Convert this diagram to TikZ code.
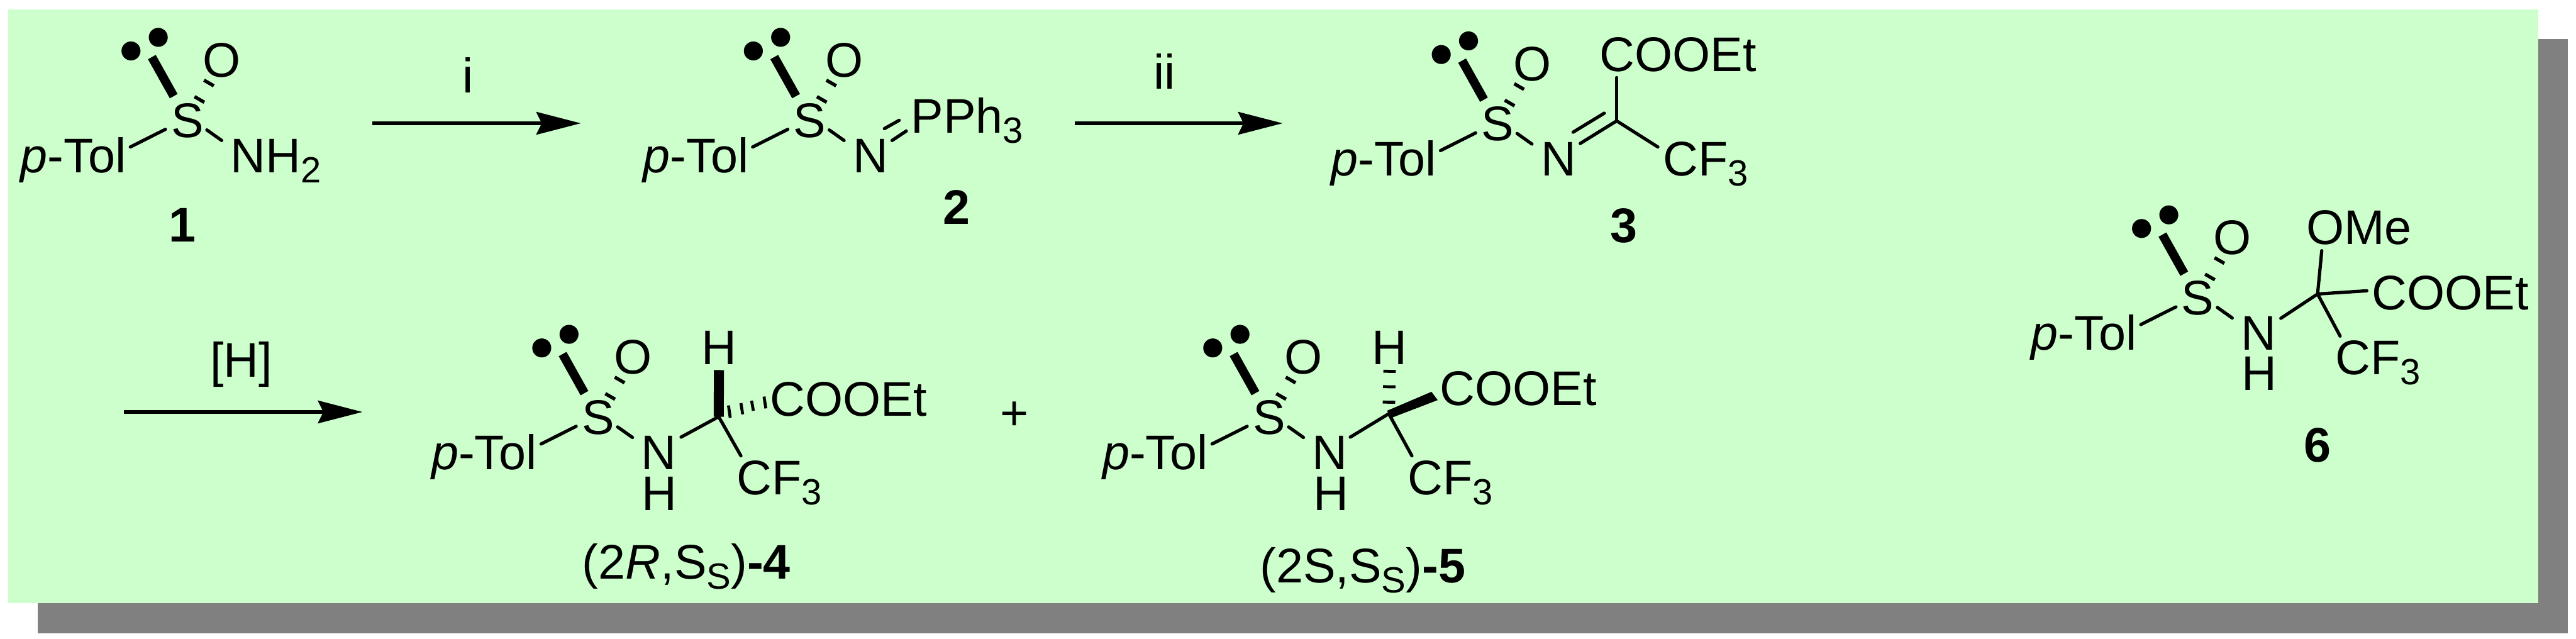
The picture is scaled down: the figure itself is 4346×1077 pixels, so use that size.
\documentclass[tikz,border=0pt]{standalone}
\usepackage{fontspec}
\setmainfont{Liberation Sans}
\usetikzlibrary{calc,arrows.meta}
\newcommand{\fsz}{\fontsize{23.33pt}{28pt}\selectfont}
\newcommand{\lowsub}[1]{\raisebox{-0.17cm}{\fontsize{17.5pt}{20pt}\selectfont #1}}
\tikzset{
  x=0.01cm,y=-0.01cm,
  atom/.style={inner sep=0pt,outer sep=0pt,font=\fsz},
  bond/.style={line width=0.055cm,line cap=round,black},
  heavybond/.style={line width=0.15cm,black},
  hashbond/.style={line width=0.19cm,black,dash pattern=on 0.058cm off 0.262cm,shorten <=0.38cm,shorten >=0.41cm},
  lonedot/.style={circle,fill=black,inner sep=0pt,minimum size=0.32cm},
  rxnarrow/.style={line width=0.06cm,black,-{Stealth[length=0.75cm,width=0.38cm,inset=0.09cm]}},
}
\newcommand{\sulf}[4]{%
  \begin{scope}[shift={(#2,#3)},name prefix=#1-]
    \node[atom,anchor=base] (S) at (0,29.5) {S};
    \node[atom,anchor=base west] (Tol) at (-281,89) {\textit{p}-Tol};
    \node[atom,anchor=base] (O) at (58.5,-72) {O};
    \node[atom,anchor=base west] (N) at (73,89) {#4};
    \node[lonedot] (LPa) at (-95,-116) {};
    \node[lonedot] (LPb) at (-49,-139) {};
    \coordinate (LP) at ($(LPa)!.5!(LPb)$);
    \draw[heavybond,shorten <=0.47cm,shorten >=0.25cm] (S.center) -- (LP);
    \draw[hashbond] (S.center) -- (O.center);
    \draw[bond] ([shift={(-37,15)}]S.center) -- ([shift={(7,-43)}]Tol.base east);
    \draw[bond] ([shift={(33,16)}]S.center) -- ([shift={(-15,-54)}]N.base west);
  \end{scope}%
}
\begin{document}
\begin{tikzpicture}
\useasboundingbox (0,0) rectangle (4346,1077);
\fill[fill={rgb,255:red,128;green,128;blue,128}] (64,66) rectangle (4332,1068);
\fill[fill={rgb,255:red,204;green,255;blue,204}] (14,16) rectangle (4282,1018);

% 1
\sulf{a}{316}{202}{NH\lowsub{2}}
\node[atom,anchor=base,font=\fsz\bfseries] (L1) at (308,408) {1};
\coordinate (A1s) at (628,208); \coordinate (A1e) at (980,208);
\draw[rxnarrow] (A1s) -- (A1e);
\node[atom,anchor=base] (Li) at (789.5,156) {i};

% 2
\sulf{b}{1366}{202}{N}
\node[atom,anchor=base west] (PPh) at (1537,224) {PPh\lowsub{3}};
\draw[bond] ([shift={(53,-74)}]b-N.base west) -- ([shift={(-20,-21)}]PPh.base west);
\draw[bond] ([shift={(66,-54)}]b-N.base west) -- ([shift={(-8,-3)}]PPh.base west);
\node[atom,anchor=base,font=\fsz\bfseries] (L2) at (1614,378) {2};
\coordinate (A2s) at (1813,208); \coordinate (A2e) at (2164,208);
\draw[rxnarrow] (A2s) -- (A2e);
\node[atom,anchor=base] (Lii) at (1965,150) {ii};

% 3
\sulf{c}{2526.5}{208}{N}
\coordinate (c-C) at (2727.5,204);
\node[atom,anchor=base west] (c-E) at (2699,120) {COOEt};
\node[atom,anchor=base west] (c-F) at (2806,297) {CF\lowsub{3}};
\draw[bond] (c-C) -- ([shift={(28.5,11)}]c-E.base west);
\draw[bond] (c-C) -- ([shift={(-9,-49)}]c-F.base west);
\draw[bond] (c-C) -- ([shift={(66.5,-55)}]c-N.base west);
\draw[bond] ([shift={(-21,-13)}]c-C) -- ([shift={(54.5,-74)}]c-N.base west);
\node[atom,anchor=base,font=\fsz\bfseries] (L3) at (2740,409) {3};

% 4
\sulf{d}{1009}{703}{N}
\node[atom,anchor=base west] (d-H) at (1083,860.8) {H};
\coordinate (d-C) at (1212.5,703);
\node[atom,anchor=base] (d-Ht) at (1213,614.4) {H};
\node[atom,anchor=base west] (d-E) at (1299,702) {COOEt};
\node[atom,anchor=base west] (d-F) at (1243,834) {CF\lowsub{3}};
\draw[line width=0.17cm,black] (d-C) -- ([shift={(0,10)}]d-Ht.base);
\draw[bond] ([shift={(67,-54.5)}]d-N.base west) -- (d-C);
\draw[bond] (d-C) -- ([shift={(7,-65)}]d-F.base west);
\foreach \i/\xa/\ya/\xb/\yb in {1/1229/684/1232/705,2/1250/680/1253/699,3/1268/676/1271/693,4/1289/669/1292/689}
  \draw[line width=0.05cm,black] (\xa,\ya) -- (\xb,\yb);
\node[atom,anchor=base] (L4) at (1158,977) {(2\textit{R},S\lowsub{S})\textbf{-4}};

% plus
\node[atom,anchor=base] (plus) at (1711,725) {+};

% 5
\sulf{e}{2141}{703}{N}
\node[atom,anchor=base west] (e-H) at (2216,860.8) {H};
\coordinate (e-C) at (2343,698);
\node[atom,anchor=base] (e-Ht) at (2344.5,614.4) {H};
\node[atom,anchor=base west] (e-E) at (2429,683.7) {COOEt};
\node[atom,anchor=base west] (e-F) at (2375,834) {CF\lowsub{3}};
\draw[bond] ([shift={(64,-54.5)}]e-N.base west) -- (e-C);
\draw[bond] (e-C) -- ([shift={(7,-65)}]e-F.base west);
\draw[line width=0.21cm,black,dash pattern=on 0.05cm off 0.21cm,shorten >=0.09cm,shorten <=0.17cm] (e-C) -- (e-Ht.base);
\fill[black] (2340,693) -- (2415,661) -- (2425.5,675) -- (2348,704.7) -- cycle;
\node[atom,anchor=base] (L5) at (2299,983.4) {(2S,S\lowsub{S})\textbf{-5}};

% 6
\sulf{f}{3708}{501.5}{N}
\node[atom,anchor=base west] (f-H) at (3782,658) {H};
\coordinate (f-C) at (3910,496);
\node[atom,anchor=base west] (f-Me) at (3891,412) {OMe};
\node[atom,anchor=base west] (f-E) at (4002,522.6) {COOEt};
\node[atom,anchor=base west] (f-F) at (3940,632) {CF\lowsub{3}};
\draw[bond] ([shift={(67,-53.5)}]f-N.base west) -- (f-C);
\draw[bond] (f-C) -- ([shift={(26,11)}]f-Me.base west);
\draw[bond] (f-C) -- ([shift={(-9,-32)}]f-E.base west);
\draw[bond] (f-C) -- ([shift={(8,-65)}]f-F.base west);
\node[atom,anchor=base,font=\fsz\bfseries] (L6) at (3910,779) {6};

% [H] arrow
\coordinate (A3s) at (209,695); \coordinate (A3e) at (611.6,695);
\draw[rxnarrow] (A3s) -- (A3e);
\node[atom,anchor=base] (LH) at (407,636) {[H]};
\end{tikzpicture}
\end{document}
